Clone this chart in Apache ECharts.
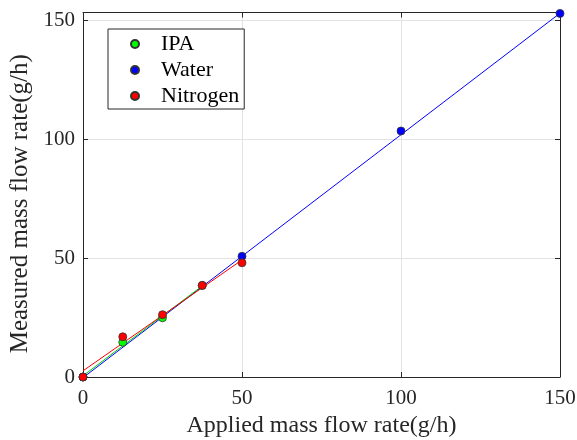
<!DOCTYPE html>
<html>
<head>
<meta charset="utf-8">
<script src="https://cdn.jsdelivr.net/npm/echarts@6/dist/echarts.min.js"></script>
<style>html,body{margin:0;padding:0;background:#fff}#c{width:577px;height:440px}</style>
</head>
<body>
<div id="c"></div>
<script>
const xTicks = [0, 50, 100, 150];
const yTicks = [0, 50, 100, 150];
const ipaX = [0, 12.5, 25, 37.5];
const ipaY = [0, 14.6, 24.9, 38.5];
const waterX = [0, 50, 100, 150];
const waterY = [0, 50.7, 103.4, 152.8];
const n2X = [0, 12.5, 25, 37.5, 50];
const n2Y = [0, 16.9, 26.2, 38.5, 48.0];
const ipaFitX = [0, 37.5];
const ipaFitY = [0.5, 38.3];
const waterFitX = [0, 150];
const waterFitY = [-0.3, 152.9];
const n2FitX = [0, 50];
const n2FitY = [2.6, 49.2];

const pairs = (xs, ys) => xs.map((x, i) => [x, ys[i]]);
const font = 'Liberation Serif, Times New Roman, serif';
const chart = echarts.init(document.getElementById('c'), null, {renderer: 'canvas'});
const axisCommon = {
  min: 0, interval: 50,
  axisLine: {show: true, onZero: false, lineStyle: {color: '#262626', width: 1}},
  axisTick: {show: true, inside: true, length: 5, lineStyle: {color: '#262626'}},
  axisLabel: {color: '#262626', fontFamily: font, fontSize: 21},
};
const mk = (name, color, xs, ys) => ({
  name, type: 'scatter', data: pairs(xs, ys), symbol: 'circle', symbolSize: 8, z: 4,
  itemStyle: {color, borderColor: '#333', borderWidth: 0.8, opacity: 1}
});
const ln = (color, xs, ys) => ({
  type: 'line', data: pairs(xs, ys), showSymbol: false, z: 3, silent: true,
  lineStyle: {color, width: 1}, emphasis: {disabled: true}
});
chart.setOption({
  animation: false,
  backgroundColor: '#fff',
  grid: {left: 83, right: 17, top: 12.5, bottom: 63, containLabel: false, outerBoundsMode: 'none'},
  xAxis: [
    Object.assign({}, axisCommon, {type: 'value', max: 150, position: 'bottom',
      name: 'Applied mass flow rate(g/h)', nameLocation: 'middle', nameGap: 35,
      nameTextStyle: {color: '#262626', fontFamily: font, fontSize: 24},
      axisLabel: Object.assign({}, axisCommon.axisLabel, {margin: 11, customValues: xTicks}),
      axisTick: Object.assign({}, axisCommon.axisTick, {customValues: xTicks}),
      splitLine: {show: true, lineStyle: {color: '#e3e3e3', width: 1}}}),
    Object.assign({}, axisCommon, {type: 'value', max: 150, position: 'top',
      axisLabel: {show: false}, splitLine: {show: false}})
  ],
  yAxis: [
    Object.assign({}, axisCommon, {type: 'value', max: 153.2, position: 'left',
      name: 'Measured mass flow rate(g/h)', nameLocation: 'middle', nameGap: 43,
      nameTextStyle: {color: '#262626', fontFamily: font, fontSize: 25, padding: [0, 18, 0, 0]},
      axisLabel: Object.assign({}, axisCommon.axisLabel, {margin: 8, customValues: yTicks}),
      axisTick: Object.assign({}, axisCommon.axisTick, {customValues: yTicks}),
      splitLine: {show: true, lineStyle: {color: '#e3e3e3', width: 1}}}),
    Object.assign({}, axisCommon, {type: 'value', max: 153.2, position: 'right',
      axisLabel: {show: false, customValues: yTicks},
      axisTick: Object.assign({}, axisCommon.axisTick, {customValues: yTicks}),
      splitLine: {show: false}})
  ],
  legend: {
    data: ['IPA', 'Water', 'Nitrogen'],
    orient: 'vertical', left: 108, top: 29,
    padding: [4, 5, 2, 22],
    itemWidth: 8, itemHeight: 8, itemGap: 4,
    icon: 'circle',
    borderColor: '#262626', borderWidth: 1, backgroundColor: '#fff',
    textStyle: {color: '#000', fontFamily: font, fontSize: 22, lineHeight: 22, padding: [0, 0, 0, 17]}
  },
  series: [
    ln('#0000ff', waterFitX, waterFitY),
    ln('#00cc00', ipaFitX, ipaFitY),
    ln('#ff0000', n2FitX, n2FitY),
    mk('IPA', '#00ff00', ipaX, ipaY),
    mk('Water', '#0000ff', waterX, waterY),
    mk('Nitrogen', '#ff0000', n2X, n2Y)
  ]
});
</script>
</body>
</html>
